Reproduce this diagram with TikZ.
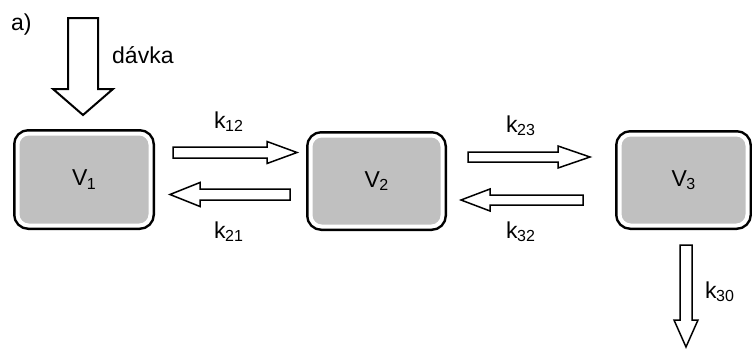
\documentclass[tikz,border=0pt]{standalone}
\usepackage{fontspec}
\setmainfont{Liberation Sans}
\newcommand\lowidx[1]{\kern-0.5pt\raisebox{-0.3ex}{\fontsize{16}{16}\selectfont #1}}
\definecolor{boxgray}{HTML}{C0C0C0}
\begin{document}
\begin{tikzpicture}[x=1pt,y=-1pt,
  compartment/.style={rectangle, rounded corners=11pt, fill=boxgray,
    draw=white, line width=4pt,
    preaction={draw=black, line width=9pt},
    inner sep=0pt, font=\fontsize{23}{23}\selectfont},
  arrowline/.style={draw=black, fill=white, line width=1.5pt, line join=miter},
  lbl/.style={inner sep=0pt, anchor=base west, font=\fontsize{23}{23}\selectfont}]
\useasboundingbox (0,0) rectangle (752,348);
% block arrow: start x, centre y, length, rotation, shaft half width, head half width, head length
\newcommand\blockarrow[8]{%
  \begin{scope}[shift={(#1,#2)},rotate=#4]
    \draw[arrowline,#8] (0,-#5) -- ({#3-#7},-#5) -- ({#3-#7},-#6) -- (#3,0)
      -- ({#3-#7},#6) -- ({#3-#7},#5) -- (0,#5) -- cycle;
  \end{scope}}

% compartments
\node[compartment, minimum width=133pt, minimum height=92pt] (v1) at (84,179.5) {V\lowidx{1}};
\node[compartment, minimum width=132pt, minimum height=91pt] (v2) at (376.5,181) {V\lowidx{2}};
\node[compartment, minimum width=128pt, minimum height=91pt] (v3) at (683.5,180) {V\lowidx{3}};

% dose input
\blockarrow{83}{18}{97}{-90}{15}{30}{26}{line width=2pt}
% exchange between compartments
\blockarrow{173}{152.5}{124}{0}{5.5}{11}{30}{}
\blockarrow{290}{194.5}{120}{180}{5.5}{12}{30}{}
\blockarrow{468}{157}{122}{0}{5}{11}{32}{}
\blockarrow{583}{200}{122}{180}{5}{11}{29}{}
% elimination
\blockarrow{686}{245}{102}{-90}{6}{12}{27}{}

% labels
\node[lbl] (tag) at (11,30) {a)};
\node[lbl] (dose) at (112,63) {dávka};
\node[lbl] (k12) at (214,128) {k\lowidx{12}};
\node[lbl] (k21) at (214,238) {k\lowidx{21}};
\node[lbl] (k23) at (506,132) {k\lowidx{23}};
\node[lbl] (k32) at (506,238) {k\lowidx{32}};
\node[lbl] (k30) at (705,298) {k\lowidx{30}};
\end{tikzpicture}
\end{document}
